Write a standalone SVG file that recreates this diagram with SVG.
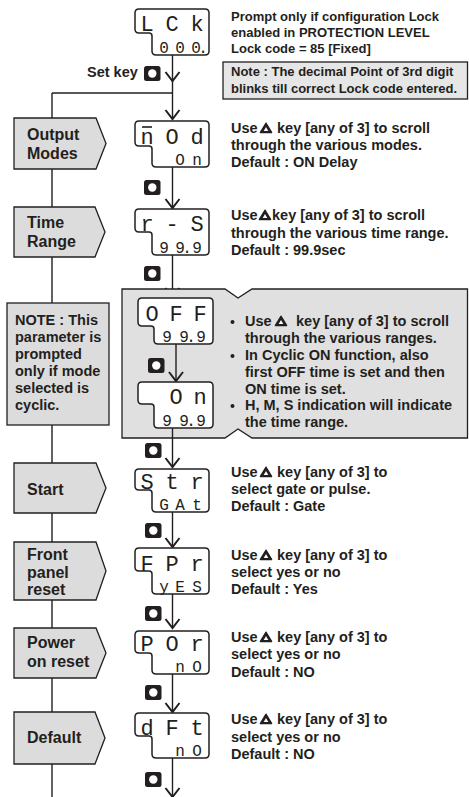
<svg xmlns="http://www.w3.org/2000/svg" xmlns:xlink="http://www.w3.org/1999/xlink" width="469" height="797" viewBox="0 0 469 797">
<style>
.t{font-family:"Liberation Sans",Arial,sans-serif;font-weight:bold;fill:#231f20}
.lbl{font-size:16px}
.txt{font-size:14.5px}
.sm{font-size:13px}
.box{fill:#dcdcdc;stroke:#231f20;stroke-width:1.3}
.disp{fill:#fff;stroke:#231f20;stroke-width:1.5}
.seg{font-family:"Liberation Mono","DejaVu Sans Mono",monospace;font-size:22px;fill:#231f20;text-anchor:middle}
.segs{font-size:16px}
.ln{fill:none;stroke:#231f20;stroke-width:1.4}
.ar{marker-end:url(#chev)}
</style>
<defs>
<marker id="chev" viewBox="-12 -9 14 18" refX="0" refY="0" markerWidth="14" markerHeight="18" markerUnits="userSpaceOnUse" orient="auto" overflow="visible">
<path d="M-9,-7 L0,0 L-9,7" fill="none" stroke="#231f20" stroke-width="2"/>
</marker>
<g id="setkey"><rect width="16.5" height="15" rx="2.5" fill="#231f20"/><circle cx="8.3" cy="7.5" r="4.2" fill="#fff"/></g>
<g id="up"><path d="M6,0.8 L11.5,10 L0.5,10 Z" fill="#231f20" stroke="#231f20" stroke-width="1.6" stroke-linejoin="round"/><path d="M6,4.6 L8.3,8.4 L3.7,8.4 Z" fill="#fff"/></g>
</defs>
<rect width="469" height="797" fill="#fff"/>

<g id="connectors">
<line class="ln" x1="52" y1="93" x2="52" y2="797"/>
<line class="ln" x1="52" y1="93" x2="172.5" y2="93"/>
<line class="ln ar" x1="172.5" y1="55" x2="172.5" y2="81"/>
<line class="ln ar" x1="172.5" y1="81" x2="172.5" y2="119"/>
<line class="ln ar" x1="172.5" y1="167" x2="172.5" y2="208"/>
<line class="ln ar" x1="172.5" y1="255" x2="172.5" y2="297"/>
</g>

<g id="node-output-modes">
<polygon class="box" points="14,118 96,118 106,143.5 96,169 14,169"/>
<text class="t lbl" x="27" y="140">Output</text>
<text class="t lbl" x="27" y="159">Modes</text>
</g>
<g id="node-time-range">
<polygon class="box" points="14,207 95,207 105,232 95,257 14,257"/>
<text class="t lbl" x="27" y="228">Time</text>
<text class="t lbl" x="27" y="247">Range</text>
</g>
<g id="node-note">
<rect class="box" x="7" y="303" width="102" height="122"/>
<text class="t txt" x="15" y="325">NOTE : This</text>
<text class="t txt" x="15" y="342">parameter is</text>
<text class="t txt" x="15" y="359">prompted</text>
<text class="t txt" x="15" y="376">only if mode</text>
<text class="t txt" x="15" y="393">selected is</text>
<text class="t txt" x="15" y="410">cyclic.</text>
</g>
<g id="node-start">
<polygon class="box" points="14,463 96,463 106,488 96,513 14,513"/>
<text class="t lbl" x="27" y="495">Start</text>
</g>
<g id="node-front-panel-reset">
<polygon class="box" points="14,542 96,542 106,571 96,600 14,600"/>
<text class="t lbl" x="27" y="560">Front</text>
<text class="t lbl" x="27" y="577.5">panel</text>
<text class="t lbl" x="27" y="595">reset</text>
</g>
<g id="node-power-on-reset">
<polygon class="box" points="14,628 96,628 106,653 96,678 14,678"/>
<text class="t lbl" x="27" y="648">Power</text>
<text class="t lbl" x="27" y="667">on reset</text>
</g>
<g id="node-default">
<polygon class="box" points="14,712 95,712 105,738 95,764 14,764"/>
<text class="t lbl" x="27" y="743">Default</text>
</g>

<g id="node-cyclic-group">
<polygon fill="#e0e0e0" stroke="#231f20" stroke-width="1.3" points="122,289 225,289 238,298 252,289 467.5,289 467.5,438 252,438 238,429 225,438 122,438"/>
<circle cx="232.5" cy="322" r="2" fill="#231f20"/>
<circle cx="232.5" cy="356" r="2" fill="#231f20"/>
<circle cx="232.5" cy="406" r="2" fill="#231f20"/>
<text class="t txt" x="245" y="326">Use <tspan x="296">key [any of 3] to scroll</tspan></text>
<use href="#up" x="275" y="315.5"/>
<text class="t txt" x="245" y="343">through the various ranges.</text>
<text class="t txt" x="245" y="360">In Cyclic ON function, also</text>
<text class="t txt" x="245" y="377">first OFF time is set and then</text>
<text class="t txt" x="245" y="393.5">ON time is set.</text>
<text class="t txt" x="245" y="410">H, M, S indication will indicate</text>
<text class="t txt" x="245" y="426.5">the time range.</text>
</g>

<g id="connectors-inner">
<line class="ln ar" x1="176" y1="344" x2="176" y2="381"/>
<line class="ln ar" x1="172.5" y1="428" x2="172.5" y2="467"/>
<line class="ln ar" x1="172.5" y1="512" x2="172.5" y2="547"/>
<line class="ln ar" x1="172.5" y1="594" x2="172.5" y2="628"/>
<line class="ln ar" x1="172.5" y1="674" x2="172.5" y2="712"/>
<line class="ln ar" x1="172.5" y1="758" x2="172.5" y2="797"/>
</g>

<g id="setkeys">
<text class="t txt" x="87" y="77">Set key</text>
<use href="#setkey" x="144" y="66"/>
<use href="#setkey" x="144" y="180"/>
<use href="#setkey" x="144" y="266"/>
<use href="#setkey" x="148" y="358"/>
<use href="#setkey" x="145" y="443"/>
<use href="#setkey" x="145" y="523"/>
<use href="#setkey" x="145" y="606"/>
<use href="#setkey" x="145" y="685"/>
<use href="#setkey" x="145" y="772"/>
</g>

<g id="disp-lck">
<path class="disp" d="M139,9 H205 Q209,9 209,13 V51 Q209,55 205,55 H156 Q152,55 152,51 V36 Q152,33 149,33 H139 Q135,33 135,29 V13 Q135,9 139,9 Z"/>
<text class="seg" x="147 172 197" y="31">LCk</text>
<text class="seg segs" x="164 180 196 203" y="53">000.</text>
</g>
<g id="disp-mod">
<path class="disp" d="M139,121 H205 Q209,121 209,125 V163 Q209,167 205,167 H156 Q152,167 152,163 V149 Q152,146 149,146 H139 Q135,146 135,142 V125 Q135,121 139,121 Z"/>
<line x1="142" y1="127" x2="152" y2="127" stroke="#231f20" stroke-width="1.6"/>
<text class="seg" x="147 172 197" y="144">nOd</text>
<text class="seg segs" x="180 197" y="165">On</text>
</g>
<g id="disp-rs">
<path class="disp" d="M139,209 H205 Q209,209 209,213 V251 Q209,255 205,255 H156 Q152,255 152,251 V235 Q152,232 149,232 H139 Q135,232 135,228 V213 Q135,209 139,209 Z"/>
<text class="seg" x="147 172 197" y="231">r-S</text>
<text class="seg segs" x="164 180 187 197" y="253">99.9</text>
</g>
<g id="disp-off">
<path class="disp" d="M142,298 H209 Q213,298 213,302 V340 Q213,344 209,344 H158 Q154,344 154,340 V329 Q154,326 151,326 H142 Q138,326 138,322 V302 Q138,298 142,298 Z"/>
<text class="seg" x="152 176 200" y="320.5">OFF</text>
<text class="seg segs" x="167 184 191 201" y="342">99.9</text>
</g>
<g id="disp-on">
<path class="disp" d="M142,382 H209 Q213,382 213,386 V424 Q213,428 209,428 H158 Q154,428 154,424 V407 Q154,404 151,404 H142 Q138,404 138,400 V386 Q138,382 142,382 Z"/>
<text class="seg" x="176 200" y="404">On</text>
<text class="seg segs" x="167 184 191 201" y="426">99.9</text>
</g>
<g id="disp-str">
<path class="disp" d="M139,469 H205 Q209,469 209,473 V508 Q209,512 205,512 H156 Q152,512 152,508 V493 Q152,490 149,490 H139 Q135,490 135,486 V473 Q135,469 139,469 Z"/>
<text class="seg" x="147 172 197" y="488.5">Str</text>
<text class="seg segs" x="164 180 197" y="510">GAt</text>
</g>
<g id="disp-fpr">
<path class="disp" d="M139,548 H205 Q209,548 209,552 V590 Q209,594 205,594 H156 Q152,594 152,590 V574 Q152,571 149,571 H139 Q135,571 135,567 V552 Q135,548 139,548 Z"/>
<text class="seg" x="147 172 197" y="570.5">FPr</text>
<text class="seg segs" x="164 180 197" y="592">yES</text>
</g>
<g id="disp-por">
<path class="disp" d="M139,631 H205 Q209,631 209,635 V670 Q209,674 205,674 H156 Q152,674 152,670 V656 Q152,653 149,653 H139 Q135,653 135,649 V635 Q135,631 139,631 Z"/>
<text class="seg" x="147 172 197" y="650.5">POr</text>
<text class="seg segs" x="180 197" y="672">nO</text>
</g>
<g id="disp-dft">
<path class="disp" d="M139,713 H205 Q209,713 209,717 V754 Q209,758 205,758 H156 Q152,758 152,754 V739 Q152,736 149,736 H139 Q135,736 135,732 V717 Q135,713 139,713 Z"/>
<text class="seg" x="147 172 197" y="734.5">dFt</text>
<text class="seg segs" x="180 197" y="756">nO</text>
</g>

<g id="info-lock">
<text class="t sm" x="231" y="21">Prompt only if configuration Lock</text>
<text class="t sm" x="231" y="37">enabled in PROTECTION LEVEL</text>
<text class="t sm" x="231" y="53">Lock code = 85 [Fixed]</text>
</g>
<g id="node-lock-note">
<rect x="223" y="62" width="244.5" height="37" fill="#e6e6e6" stroke="#231f20" stroke-width="1.3"/>
<text class="t sm" x="231" y="76">Note : The decimal Point of 3rd digit</text>
<text class="t sm" x="231" y="93">blinks till correct Lock code entered.</text>
</g>
<g id="info-mod">
<text class="t txt" x="231" y="133">Use <tspan x="277">key [any of 3] to scroll</tspan></text>
<use href="#up" x="260" y="122.5"/>
<text class="t txt" x="231" y="150">through the various modes.</text>
<text class="t txt" x="231" y="167">Default : ON Delay</text>
</g>
<g id="info-rs">
<text class="t txt" x="231" y="220">Use<tspan x="272">key [any of 3] to scroll</tspan></text>
<use href="#up" x="259" y="209.5"/>
<text class="t txt" x="231" y="237.5">through the various time range.</text>
<text class="t txt" x="231" y="255">Default : 99.9sec</text>
</g>
<g id="info-str">
<text class="t txt" x="231" y="477">Use <tspan x="277">key [any of 3] to</tspan></text>
<use href="#up" x="260" y="466.5"/>
<text class="t txt" x="231" y="494">select gate or pulse.</text>
<text class="t txt" x="231" y="511">Default : Gate</text>
</g>
<g id="info-fpr">
<text class="t txt" x="231" y="560">Use <tspan x="277">key [any of 3] to</tspan></text>
<use href="#up" x="260" y="549.5"/>
<text class="t txt" x="231" y="577">select yes or no</text>
<text class="t txt" x="231" y="594">Default : Yes</text>
</g>
<g id="info-por">
<text class="t txt" x="231" y="642">Use <tspan x="277">key [any of 3] to</tspan></text>
<use href="#up" x="260" y="631.5"/>
<text class="t txt" x="231" y="659">select yes or no</text>
<text class="t txt" x="231" y="677">Default : NO</text>
</g>
<g id="info-dft">
<text class="t txt" x="231" y="724">Use <tspan x="277">key [any of 3] to</tspan></text>
<use href="#up" x="260" y="713.5"/>
<text class="t txt" x="231" y="742">select yes or no</text>
<text class="t txt" x="231" y="759">Default : NO</text>
</g>
</svg>
